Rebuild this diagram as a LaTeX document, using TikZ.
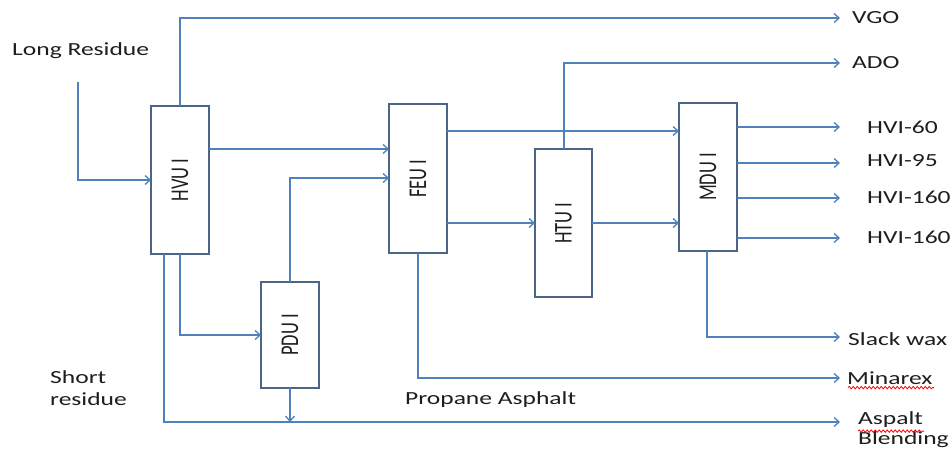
\documentclass[tikz,border=0pt]{standalone}
\usepackage{fontspec}
\setmainfont{Carlito}
\usetikzlibrary{arrows.meta,decorations.pathmorphing}
\definecolor{flowblue}{HTML}{4F81BD}
\definecolor{boxedge}{HTML}{4A6585}
\definecolor{txt}{HTML}{1E1E1E}
\newcommand\hs[1]{\scalebox{1.38}[1]{#1}}
\newcommand\vs[1]{\scalebox{1}[1.38]{#1}}
\tikzset{
  unit/.style={draw=boxedge, line width=2pt, fill=white, inner sep=0pt, outer sep=0pt,
    minimum width=58pt, text=black, font=\fontsize{18.5}{22}\selectfont},
  unitname/.style={rotate=90, text=txt, font=\fontsize{18.5}{22}\selectfont},
  flow/.style={draw=flowblue, line width=1.5pt, -{Straight Barb[length=5pt,width=9pt,line width=1.3pt]}},
  lbl/.style={anchor=west, inner sep=0pt, text=txt, font=\fontsize{18.5}{22}\selectfont},
  spell/.style={draw=red, line width=0.8pt, decorate, decoration={snake, segment length=4pt, amplitude=1.2pt}}
}
\begin{document}
\begin{tikzpicture}[x=1pt,y=-1pt]
\useasboundingbox[fill=white] (0,0) rectangle (952,450);
% units
\node[unit, minimum height=148pt] (hvu) at (180,180) {};
\node[unit, minimum height=149pt] (feu) at (418,178.5) {};
\node[unit, minimum height=106pt] (pdu) at (290,335) {};
\node[unit, minimum width=57pt, minimum height=148pt] (htu) at (563.5,223) {};
\node[unit, minimum height=148pt] (mdu) at (708,177) {};
\node[unitname] (hvut) at (hvu.center) {\vs{HVU I}};
\node[unitname] (feut) at (feu.center) {\vs{FEU I}};
\node[unitname] (pdut) at (pdu.center) {\vs{PDU I}};
\node[unitname] (htut) at (htu.center) {\vs{HTU I}};
\node[unitname] (mdut) at (mdu.center) {\vs{MDU I}};
% end coordinates
\coordinate (eVGO) at (840,18);
\coordinate (eADO) at (840,63);
\coordinate (eH1) at (840,127);
\coordinate (eH2) at (840,163);
\coordinate (eH3) at (840,198);
\coordinate (eH4) at (840,238);
\coordinate (eSW) at (840,337);
\coordinate (eMin) at (840,378);
\coordinate (eAsp) at (840,422);
\coordinate (lrs) at (78,82);
% labels
\node[lbl] (lr) at (12,51) {\hs{Long Residue}};
\node[lbl] (vgo) at (852,18) {\hs{VGO}};
\node[lbl] (ado) at (852,63) {\hs{ADO}};
\node[lbl] (h1) at (867,127) {\hs{HVI-60}};
\node[lbl] (h2) at (867,161) {\hs{HVI-95}};
\node[lbl] (h3) at (867,197) {\hs{HVI-160}};
\node[lbl] (h4) at (867,237) {\hs{HVI-160}};
\node[lbl] (sw) at (848,339) {\hs{Slack wax}};
\node[lbl] (min) at (847,378) {\hs{Minarex}};
\node[lbl] (asp) at (858,420) {\hs{Aspalt}};
\node[lbl] (bl) at (858,440) {\hs{Blending}};
\node[lbl] (sr1) at (50,377) {\hs{Short}};
\node[lbl] (sr2) at (50,399) {\hs{residue}};
\node[lbl] (pa) at (405,400) {\hs{Propane Asphalt}};
\draw[spell] (min.south west) ++(1,3) -- ++(86,0);
\draw[spell] (asp.south west) ++(0,3) -- ++(66,0);
% connectors
\draw[flow] (hvu.north) |- (eVGO);
\draw[flow] (lrs) |- (hvu.west);
\draw[flow] (hvu.east |- 0,149) -- (feu.west |- 0,149);
\draw[flow] (pdu.north) |- (feu.west |- 0,178);
\draw[flow] (hvu.south) |- (pdu.west);
\draw[flow] (hvu.south -| 164,0) |- (eAsp);
\draw[flow] (pdu.south) -- (pdu.south |- eAsp);
\draw[flow] (feu.east |- 0,131) -- (mdu.west |- 0,131);
\draw[flow] (feu.east |- htu.west) -- (htu.west);
\draw[flow] (htu.north -| 564,0) |- (eADO);
\draw[flow] (htu.east) -- (mdu.west |- htu.east);
\draw[flow] (mdu.east |- eH1) -- (eH1);
\draw[flow] (mdu.east |- eH2) -- (eH2);
\draw[flow] (mdu.east |- eH3) -- (eH3);
\draw[flow] (mdu.east |- eH4) -- (eH4);
\draw[flow] (mdu.south -| 707,0) |- (eSW);
\draw[flow] (feu.south) |- (eMin);
\end{tikzpicture}
\end{document}
